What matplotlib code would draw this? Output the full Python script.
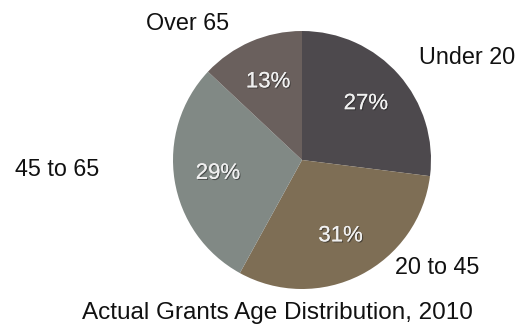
import matplotlib
matplotlib.use("Agg")
import matplotlib.pyplot as plt
import matplotlib.patheffects as pe

# Age groups and their share of actual grants, 2010
groups = ["Under 20", "20 to 45", "45 to 65", "Over 65"]
shares = [27, 31, 29, 13]
colors = ["#4d494d", "#7e6e55", "#818985", "#6a605d"]

title = "Actual Grants Age Distribution, 2010"

W, H = 522, 325
fig = plt.figure(figsize=(W / 100, H / 100), dpi=100)
fig.patch.set_facecolor("white")
ax = fig.add_axes([0, 0, 1, 1])
ax.set_xlim(0, W)
ax.set_ylim(0, H)
ax.set_aspect("equal")
ax.axis("off")

plt.rcParams["font.family"] = ["Liberation Sans", "DejaVu Sans"]

cx, cy, r = 302, H - 160, 129
wedges, _, autotexts = ax.pie(
    shares,
    colors=colors,
    startangle=90,
    counterclock=False,
    center=(cx, cy),
    radius=r,
    autopct=lambda p: f"{p:.0f}%",
    pctdistance=0.66,
    wedgeprops=dict(linewidth=0),
    textprops=dict(fontsize=16, color="#f0f0f0"),
)
ax.set_xlim(0, W)
ax.set_ylim(0, H)
for t in autotexts:
    t.set_path_effects([
        pe.withSimplePatchShadow(offset=(0.8, -0.8), shadow_rgbFace="#222222", alpha=0.55),
        pe.Normal(),
    ])

# Category names around the pie
label_pos = {
    "Under 20": (467, H - 58),
    "20 to 45": (437, H - 267),
    "45 to 65": (57, H - 170),
    "Over 65": (188, H - 23),
}
for g in groups:
    x, y = label_pos[g]
    ax.text(x, y, g, ha="center", va="center", fontsize=16.8, color="#111111")

ax.text(277, H - 313, title, ha="center", va="center", fontsize=17.5, color="#111111")

fig.savefig("out.png", dpi=100, facecolor="white")
